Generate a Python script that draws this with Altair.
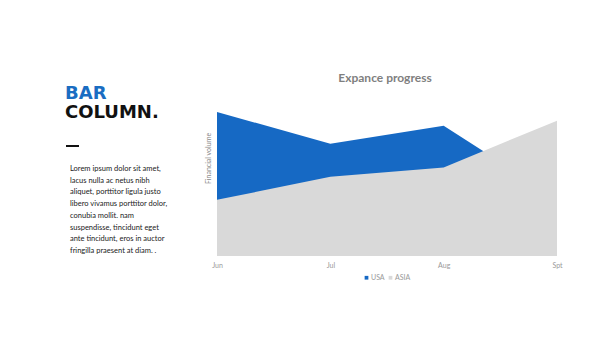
import altair as alt
import pandas as pd

months = ["Jun", "Jul", "Aug", "Spt"]
usa = [100, 78, 90.5, 40]
asia = [39, 55, 61.5, 94]
series = ["USA", "ASIA"]
colors = ["#1669C4", "#D9D9D9"]

paragraph = [
    "Lorem ipsum dolor sit amet,",
    "lacus nulla ac netus nibh",
    "aliquet, porttitor ligula justo",
    "libero vivamus porttitor dolor,",
    "conubia mollit. nam",
    "suspendisse, tincidunt eget",
    "ante tincidunt, eros in auctor",
    "fringilla praesent at diam. .",
]

rows = []
for s, vals in zip(series, [usa, asia]):
    for m, v in zip(months, vals):
        rows.append({"month": m, "series": s, "value": v})
df = pd.DataFrame(rows)

x = alt.X("month:N", sort=months, scale=alt.Scale(type="point", padding=0),
          axis=alt.Axis(title=None, labelAngle=0, domain=False, ticks=False,
                        labelFont="Lato", labelFontSize=7, labelColor="#999999",
                        labelPadding=5))
y = alt.Y("value:Q", scale=alt.Scale(domain=[0, 100], nice=False), stack=None,
          axis=alt.Axis(title="Financial volume", domain=False, ticks=False, labels=False,
                        grid=False, titleFont="Lato", titleFontSize=7, titleFontWeight="normal",
                        titleColor="#888888", titlePadding=6, titleY=46))
color = alt.Color("series:N", scale=alt.Scale(domain=series, range=colors),
                  legend=alt.Legend(title=None, orient="none", direction="horizontal",
                                    legendX=146, legendY=162, symbolType="square",
                                    symbolSize=14, labelFont="Lato", labelFontSize=7,
                                    labelColor="#999999", labelOffset=1, columnPadding=2,
                                    symbolStrokeWidth=0))

base = alt.Chart(df)
usa_area = base.transform_filter(alt.datum.series == "USA").mark_area(opacity=1).encode(x=x, y=y, color=color)
asia_area = base.transform_filter(alt.datum.series == "ASIA").mark_area(opacity=1).encode(x=x, y=y, color=color)

one = alt.Data(values=[{}])
title_txt = alt.Chart(one).mark_text(text="Expance progress", font="Lato", fontWeight="bold",
                                     fontSize=12, color="#7F7F7F", align="center",
                                     baseline="middle").encode(
    x=alt.value(385 - 217), y=alt.value(78 - 112))
bar_txt = alt.Chart(one).mark_text(text="BAR", font="DejaVu Sans", fontWeight="bold", fontSize=18,
                                   color="#1A6DC2", align="left", baseline="alphabetic").encode(
    x=alt.value(65 - 217), y=alt.value(99 - 112))
col_txt = alt.Chart(one).mark_text(text="COLUMN.", font="DejaVu Sans", fontWeight="bold", fontSize=18,
                                   color="#111111", align="left", baseline="alphabetic").encode(
    x=alt.value(65 - 217), y=alt.value(118 - 112))
dash = alt.Chart(one).mark_rule(color="#111111", strokeWidth=2).encode(
    x=alt.value(66 - 217), x2=alt.value(79 - 217), y=alt.value(146 - 112))
para = alt.Chart(one).mark_text(text=paragraph, font="Lato", fontSize=7.5, color="#222222",
                                align="left", baseline="middle", lineHeight=11.7).encode(
    x=alt.value(70 - 217), y=alt.value(169 - 112))

chart = alt.layer(usa_area, asia_area, title_txt, bar_txt, col_txt, dash, para).properties(
    width=340, height=144,
    autosize=alt.AutoSizeParams(type="none"),
    padding={"left": 217, "top": 112, "right": 43, "bottom": 82},
).configure_view(stroke=None)

chart.save("out.html", embed_options={"renderer": "svg", "actions": False})
